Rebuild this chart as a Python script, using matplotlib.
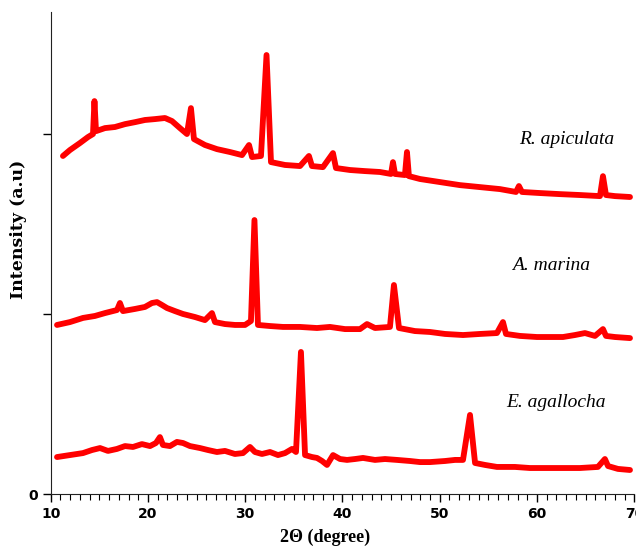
import numpy as np
import matplotlib
matplotlib.use("Agg")
import matplotlib.pyplot as plt
from matplotlib.ticker import MultipleLocator

# XRD patterns, 2theta (degree) vs intensity (a.u., offset stacked)
rap_2theta = [11.26, 11.98, 13.01, 13.83, 14.35, 14.50, 14.66, 15.58, 16.61, 17.64,
              18.67, 19.69, 20.72, 21.75, 22.47, 23.29, 24.01, 24.42, 24.73, 25.86,
              27.10, 28.43, 29.67, 30.39, 30.70, 31.62, 32.19, 32.65, 34.09, 35.63,
              36.55, 36.86, 37.99, 39.02, 39.33, 40.77, 42.31, 43.85, 44.99, 45.19,
              45.40, 46.42, 46.63, 46.83, 47.97, 50.02, 52.08, 54.14, 56.19, 57.84,
              58.14, 58.45, 60.30, 62.36, 64.41, 66.47, 66.78, 67.09, 68.01, 69.56]
rap_int = [1880, 1913, 1952, 1985, 2002, 2185, 2018, 2035, 2041, 2057,
           2068, 2080, 2085, 2091, 2074, 2035, 2002, 2146, 1974, 1941,
           1918, 1902, 1885, 1941, 1874, 1880, 2441, 1846, 1830, 1824,
           1880, 1824, 1818, 1896, 1813, 1802, 1796, 1791, 1780, 1846,
           1780, 1774, 1902, 1768, 1752, 1735, 1718, 1707, 1696, 1680,
           1713, 1680, 1674, 1668, 1663, 1657, 1768, 1663, 1657, 1652]

mar_2theta = [10.65, 11.98, 13.32, 14.55, 15.58, 16.82, 17.12, 17.43, 18.67, 19.69,
              20.41, 20.93, 21.44, 21.96, 22.78, 23.60, 24.84, 25.86, 26.58, 26.89,
              27.92, 28.95, 29.98, 30.59, 30.95, 31.31, 32.55, 33.88, 35.63, 37.38,
              38.71, 40.26, 41.80, 42.52, 43.34, 44.88, 45.29, 45.81, 47.45, 48.99,
              50.54, 52.39, 54.14, 55.88, 56.50, 56.81, 58.25, 59.99, 61.33, 62.67,
              63.90, 64.93, 65.96, 66.78, 67.09, 68.01, 69.56]
mar_int = [941, 957, 980, 991, 1007, 1024, 1063, 1018, 1030, 1041,
           1063, 1068, 1052, 1035, 1018, 1002, 985, 968, 1007, 957,
           946, 941, 941, 963, 1524, 941, 935, 930, 930, 924,
           930, 918, 918, 946, 924, 930, 1163, 924, 907, 902,
           891, 885, 891, 896, 957, 891, 880, 874, 874, 874,
           885, 896, 880, 918, 880, 874, 868]

aga_2theta = [10.65, 11.98, 13.32, 14.25, 15.07, 15.89, 16.81, 17.64, 18.46, 19.38,
              20.21, 20.82, 21.23, 21.54, 22.26, 22.98, 23.60, 24.32, 25.35, 26.17,
              27.09, 27.92, 28.94, 29.77, 30.49, 31.00, 31.72, 32.55, 33.37, 34.09,
              34.81, 35.22, 35.73, 36.15, 36.87, 37.38, 37.90, 38.41, 39.03, 39.75,
              40.47, 41.29, 42.11, 43.34, 44.37, 45.60, 46.94, 47.97, 49.00, 50.54,
              51.57, 52.39, 53.11, 53.63, 54.66, 55.88, 57.73, 59.27, 60.81, 62.67,
              64.41, 66.26, 66.98, 67.30, 68.32, 69.56]
aga_int = [207, 218, 229, 246, 257, 241, 252, 268, 263, 279,
           268, 285, 318, 274, 268, 291, 285, 268, 257, 246,
           235, 241, 224, 229, 263, 235, 224, 235, 218, 229,
           252, 235, 791, 218, 207, 202, 185, 163, 218, 196,
           191, 196, 202, 191, 196, 191, 185, 179, 179, 185,
           191, 191, 441, 174, 163, 152, 152, 146, 146, 146,
           146, 152, 196, 157, 141, 135]

samples = ["R. apiculata", "A. marina", "E. agallocha"]
label_x = [63.1, 61.4, 61.95]
label_y = [1969, 1274, 508]

fig = plt.figure(figsize=(6.36, 5.46), dpi=100)
ax = fig.add_axes([0.0797, 0.0947, 0.9176, 0.8833])

for xs, ys in [(rap_2theta, rap_int), (mar_2theta, mar_int), (aga_2theta, aga_int)]:
    ax.plot(xs, ys, color="red", lw=4.2, solid_joinstyle="round", solid_capstyle="round")

for name, lx, ly in zip(samples, label_x, label_y):
    ax.text(lx, ly, name, ha="center", va="center", fontsize=14,
            family="Liberation Serif", style="italic")

ax.set_xlim(10, 70)
ax.set_ylim(0, 2680)
ax.spines["top"].set_visible(False)
ax.spines["right"].set_visible(False)
ax.spines["left"].set_color("#222222")
ax.spines["bottom"].set_color("#222222")

ax.xaxis.set_major_locator(MultipleLocator(10))
ax.xaxis.set_minor_locator(MultipleLocator(1))
ax.set_yticks([0, 1000, 2000])
ax.set_yticklabels(["0", "", ""])
ax.tick_params(axis="both", which="major", length=6, width=1, direction="out", pad=3)
ax.tick_params(axis="x", which="minor", length=4, width=0.8, direction="out")
for lab in ax.get_xticklabels() + ax.get_yticklabels():
    lab.set_family(["Liberation Sans Narrow", "DejaVu Sans"])
    lab.set_fontweight("bold")
    lab.set_fontsize(10)

ax.set_xlabel("2Θ (degree)", fontsize=13, fontweight="bold", family="Liberation Serif")
ax.xaxis.set_label_coords(0.47, -0.071)
ax.set_ylabel("Intensity (a.u)", fontsize=12.5, fontweight="bold", family="DejaVu Serif")
ax.yaxis.set_label_coords(-0.041, 0.55)

fig.savefig("out.png", dpi=100)
